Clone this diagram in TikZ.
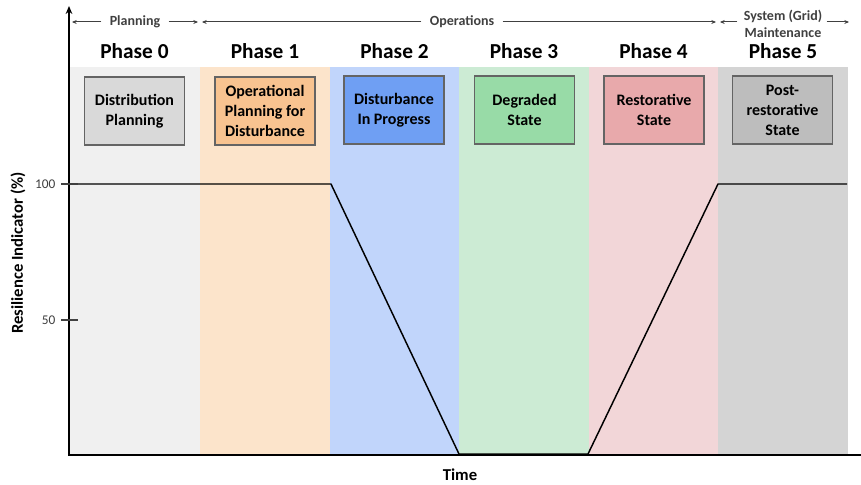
\documentclass[tikz,border=0pt]{standalone}
\usepackage{fontspec}
\setmainfont{Carlito}
\usetikzlibrary{arrows.meta}

\definecolor{bandzero}{RGB}{240,240,240}
\definecolor{boxzero}{RGB}{217,217,217}
\definecolor{bandone}{RGB}{252,228,203}
\definecolor{boxone}{RGB}{248,195,144}
\definecolor{bandtwo}{RGB}{193,213,251}
\definecolor{boxtwo}{RGB}{111,159,243}
\definecolor{bandthree}{RGB}{204,235,212}
\definecolor{boxthree}{RGB}{152,219,167}
\definecolor{bandfour}{RGB}{242,214,216}
\definecolor{boxfour}{RGB}{232,169,171}
\definecolor{bandfive}{RGB}{212,212,212}
\definecolor{boxfive}{RGB}{189,189,189}
\definecolor{txtgray}{RGB}{64,64,64}

\tikzset{every picture/.style={line width=0.75pt}}
\tikzset{
  phasebox/.style={draw={rgb, 255:red, 100; green, 100; blue, 100}, line width=0.9pt, minimum width=75pt, minimum height=51pt, align=center, inner sep=0.75pt, font=\fontsize{12}{15}\selectfont\bfseries},
  phasetitle/.style={inner sep=0.75pt, font=\fontsize{16}{19}\selectfont\bfseries},
  spanlabel/.style={inner xsep=6pt, inner ysep=0.75pt, align=center, text=txtgray, font=\fontsize{10.5}{13}\selectfont\bfseries},
  spanarrow/.style={draw=txtgray, line width=0.75pt, -{Stealth[length=3.5pt,width=3pt]}},
}

\begin{document}
\begin{tikzpicture}[x=0.75pt,y=0.75pt,yscale=-1,xscale=1]
	\useasboundingbox (0,0) rectangle (861,485);

	%Shape: Rectangle [bands]
	\fill [bandzero] (69,67) rectangle (200,454) ;
	\fill [bandone] (200,67) rectangle (330,454) ;
	\fill [bandtwo] (330,67) rectangle (459,454) ;
	\fill [bandthree] (459,67) rectangle (589,454) ;
	\fill [bandfour] (589,67) rectangle (718,454) ;
	\fill [bandfive] (718,67) rectangle (848,454) ;

	% Text Node
	\node [phasetitle] (t0) at (134.5,51) {Phase 0};
	% Text Node
	\node [phasetitle] (t1) at (265,51) {Phase 1};
	% Text Node
	\node [phasetitle] (t2) at (394.5,51) {Phase 2};
	% Text Node
	\node [phasetitle] (t3) at (524,51) {Phase 3};
	% Text Node
	\node [phasetitle] (t4) at (653.5,51) {Phase 4};
	% Text Node
	\node [phasetitle] (t5) at (783,51) {Phase 5};

	% Boxes
	\node [phasebox, fill=boxzero] (s0) at (134.5,111) {Distribution\\Planning};
	\node [phasebox, fill=boxone] (s1) at (265,111) {Operational\\Planning for\\Disturbance};
	\node [phasebox, fill=boxtwo] (s2) at (394,110) {Disturbance\\In Progress};
	\node [phasebox, fill=boxthree] (s3) at (524.5,110) {Degraded\\State};
	\node [phasebox, fill=boxfour] (s4) at (654,110) {Restorative\\State};
	\node [phasebox, fill=boxfive] (s5) at (782.5,110) {Post-\\restorative\\State};

	% Span labels
	\coordinate (b0) at (72,22);
	\coordinate (b1l) at (198,22);
	\coordinate (b1r) at (202,22);
	\coordinate (b5l) at (716,22);
	\coordinate (b5r) at (720,22);
	\coordinate (b6) at (849,22);
	\node [spanlabel] (plan) at (135,22) {Planning};
	\node [spanlabel] (ops) at (462,22) {Operations};
	\node [spanlabel] (maint) at (783,24) {System (Grid)\\Maintenance};
	\draw [spanarrow] (plan) -- (b0) ;
	\draw [spanarrow] (plan) -- (b1l) ;
	\draw [spanarrow] (ops) -- (b1r) ;
	\draw [spanarrow] (ops) -- (b5l) ;
	\draw [spanarrow] (maint.west |- b5r) ++(2,0) -- (b5r) ;
	\draw [spanarrow] (maint.east |- b6) ++(-4,0) -- (b6) ;

	%Straight Lines [resilience curve]
	\draw [line width=1.1pt, line join=round]  (69,184) -- (331,184) -- (459,454) -- (588,454) -- (718,184) -- (847,184) ;

	%Straight Lines [axes]
	\draw [line width=1.6pt, -{Stealth[length=6pt,width=5pt]}] (69,455) -- (69,6) ;
	\draw [line width=1.6pt] (68,455) -- (861,455) ;
	\draw [line width=1pt, draw=txtgray] (61,184) -- (78,184) (61,320) -- (78,320) ;

	% Text Node
	\node [anchor=east, inner sep=0.75pt, text=txtgray, font=\fontsize{10}{12}\selectfont] (y100) at (57,184) {100};
	% Text Node
	\node [anchor=east, inner sep=0.75pt, text=txtgray, font=\fontsize{10}{12}\selectfont] (y50) at (57,320) {50};
	% Text Node
	\node [rotate=90, inner sep=0.75pt, font=\fontsize{12.5}{14}\selectfont\bfseries] (ylab) at (18,253) {Resilience Indicator (\%)};
	% Text Node
	\node [inner sep=0.75pt, font=\fontsize{12.5}{14}\selectfont\bfseries] (xlab) at (460,475) {Time};

\end{tikzpicture}
\end{document}
